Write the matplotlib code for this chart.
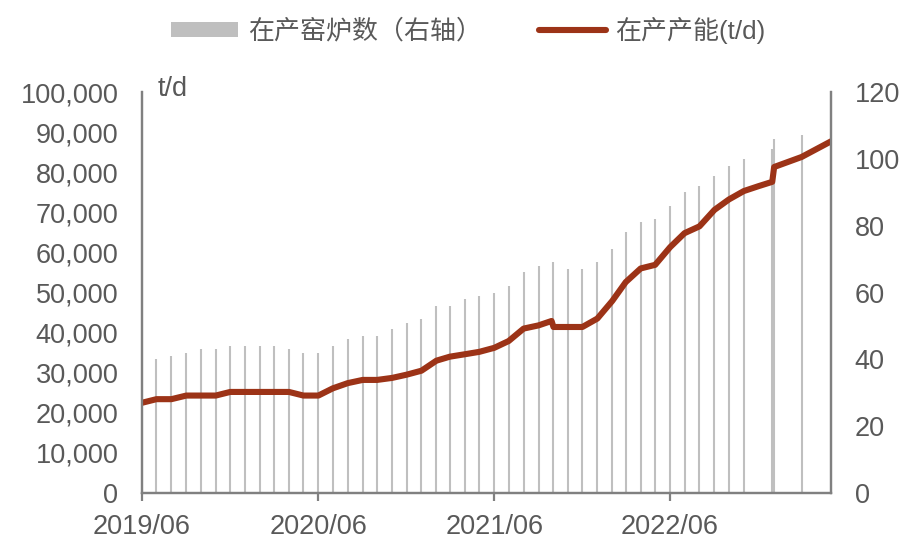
import numpy as np
import matplotlib
matplotlib.use("Agg")
import matplotlib.pyplot as plt
import matplotlib.dates as mdates
import matplotlib.ticker as mticker
from matplotlib.patches import Patch
from matplotlib.lines import Line2D

plt.rcParams['font.family'] = ['Liberation Sans', 'Noto Sans CJK SC', 'DejaVu Sans']

# kilns in production (right axis)
kiln_dates = ['2019-07-01', '2019-08-01', '2019-09-01', '2019-10-01', '2019-11-01', '2019-12-01',
              '2020-01-01', '2020-02-01', '2020-03-01', '2020-04-01', '2020-05-01', '2020-06-01',
              '2020-07-01', '2020-08-01', '2020-09-01', '2020-10-01', '2020-11-01', '2020-12-01',
              '2021-01-01', '2021-02-01', '2021-03-01', '2021-04-01', '2021-05-01', '2021-06-01',
              '2021-07-01', '2021-08-01', '2021-09-01', '2021-10-01', '2021-11-01', '2021-12-01',
              '2022-01-01', '2022-02-01', '2022-03-01', '2022-04-01', '2022-05-01', '2022-06-01',
              '2022-07-01', '2022-08-01', '2022-09-01', '2022-10-01', '2022-11-01',
              '2022-12-30', '2023-01-03', '2023-03-01']
kilns = [40, 41, 42, 43, 43, 44,
         44, 44, 44, 43, 42, 42,
         44, 46, 47, 47, 49, 51,
         52, 56, 56, 58, 59, 60,
         62, 66, 68, 69, 67, 67,
         69, 73, 78, 81, 82, 86,
         90, 92, 95, 98, 100,
         103, 106, 107]

# capacity in production, t/d (left axis)
cap_dates = ['2019-06-01', '2019-07-01', '2019-08-01', '2019-09-01', '2019-10-01', '2019-11-01',
             '2019-12-01', '2020-01-01', '2020-02-01', '2020-03-01', '2020-04-01', '2020-05-01',
             '2020-06-01', '2020-07-01', '2020-08-01', '2020-09-01', '2020-10-01', '2020-11-01',
             '2020-12-01', '2021-01-01', '2021-02-01', '2021-03-01', '2021-04-01', '2021-05-01',
             '2021-06-01', '2021-07-01', '2021-08-01', '2021-09-01', '2021-09-28', '2021-10-02',
             '2021-11-01', '2021-12-01', '2022-01-01', '2022-02-01', '2022-03-01', '2022-04-01',
             '2022-05-01', '2022-06-01', '2022-07-01', '2022-08-01', '2022-09-01', '2022-10-01',
             '2022-11-01', '2022-12-01', '2022-12-30', '2023-01-03', '2023-03-01', '2023-05-01']
capacity = [22500, 23400, 23400, 24300, 24300, 24300,
            25200, 25200, 25200, 25200, 25200, 24300,
            24300, 26100, 27400, 28200, 28200, 28700,
            29500, 30500, 33000, 34000, 34600, 35200,
            36200, 37900, 41000, 41800, 42900, 41400,
            41400, 41400, 43500, 47900, 52600, 56000,
            56900, 61300, 64800, 66500, 70600, 73200,
            75300, 76500, 77600, 81300, 83800, 87700]

kiln_x = np.array(kiln_dates, dtype='datetime64[D]')
cap_x = np.array(cap_dates, dtype='datetime64[D]')

gray_txt = '#595959'
spine_c = '#808080'
bar_c = '#BFBFBF'
line_c = '#9C3317'

fig = plt.figure(figsize=(9.11, 5.58), dpi=100)
ax = fig.add_axes([0.1559, 0.1165, 0.7563, 0.7186])
ax2 = ax.twinx()

# very thin bars -> drawn as vertical strokes of uniform width
ax2.vlines(kiln_x, 0, kilns, colors=bar_c, linewidth=1.5)
ax.plot(cap_x, capacity, color=line_c, linewidth=4.4, solid_capstyle='round', solid_joinstyle='round')

ax.set_zorder(ax2.get_zorder() + 1)
ax.patch.set_visible(False)

ax.set_xlim(np.datetime64('2019-06-01'), np.datetime64('2023-05-01'))
ax.set_ylim(0, 100000)
ax2.set_ylim(0, 120)
ax.set_yticks(np.arange(0, 100001, 10000))
ax2.set_yticks(np.arange(0, 121, 20))
ax.yaxis.set_major_formatter(mticker.FuncFormatter(lambda v, p: f'{int(v):,}'))

ax.set_xticks(np.array(['2019-06-01', '2020-06-01', '2021-06-01', '2022-06-01'], dtype='datetime64[D]'))
ax.xaxis.set_major_formatter(mdates.DateFormatter('%Y/%m'))

for a in (ax, ax2):
    for s in a.spines.values():
        s.set_color(spine_c)
        s.set_linewidth(1.6)
    a.spines['top'].set_visible(False)

ax.tick_params(axis='x', length=6, width=1.6, color=spine_c, labelsize=19.5, labelcolor=gray_txt, pad=9)
ax.tick_params(axis='y', length=0, labelsize=19.5, labelcolor=gray_txt, pad=17)
ax2.tick_params(axis='y', length=0, labelsize=19.5, labelcolor=gray_txt, pad=17)

ax.text(0.022, 1.008, 't/d', transform=ax.transAxes, ha='left', va='center',
        fontsize=19.5, color=gray_txt)

handles = [Patch(facecolor=bar_c, edgecolor='none'),
           Line2D([0], [0], color=line_c, linewidth=4.4, solid_capstyle='round')]
labels = ['在产窑炉数（右轴）', '在产产能(t/d)']
fig.legend(handles, labels, loc='center', bbox_to_anchor=(0.514, 0.946), ncol=2, frameon=False,
           prop={'size': 18.7}, labelcolor=gray_txt, handlelength=2.6, handleheight=0.55,
           handletextpad=0.35, columnspacing=2.2)

plt.savefig('out.png', dpi=100)
